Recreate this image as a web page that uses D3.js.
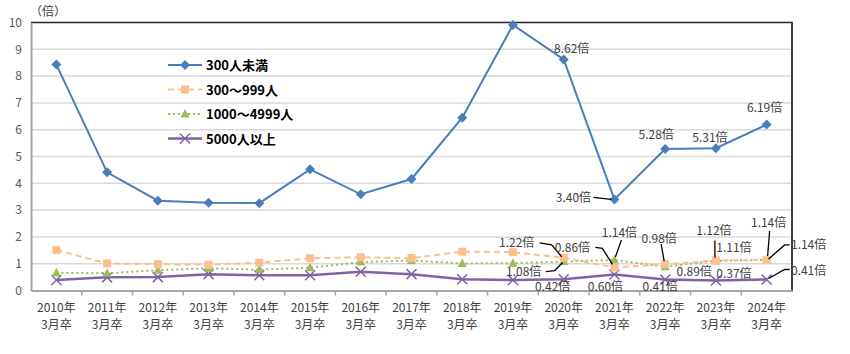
<!DOCTYPE html>
<html>
<head>
<meta charset="utf-8">
<title>大卒求人倍率</title>
<style>
  body { margin: 0; background: #fff; }
  text { font-family: "Noto Sans CJK JP", "Noto Sans", sans-serif; }
</style>
</head>
<body>

<div id="my_dataviz"></div>

<script src="https://d3js.org/d3.v7.min.js"></script>
<script>

    // categories (two line labels)
    var years = ["2010年","2011年","2012年","2013年","2014年","2015年","2016年","2017年","2018年","2019年","2020年","2021年","2022年","2023年","2024年"];
    var subLabel = "3月卒";
    var yTicks = [0,1,2,3,4,5,6,7,8,9,10];

    // series values (倍)
    var under300   = [8.43, 4.41, 3.35, 3.27, 3.26, 4.52, 3.59, 4.16, 6.45, 9.91, 8.62, 3.40, 5.28, 5.31, 6.19];
    var s300to999  = [1.51, 1.01, 0.98, 0.96, 1.04, 1.20, 1.24, 1.21, 1.45, 1.43, 1.22, 0.86, 0.98, 1.12, 1.14];
    var s1000to4999= [0.66, 0.64, 0.76, 0.83, 0.78, 0.85, 1.06, 1.12, 1.01, 1.02, 1.08, 1.14, 0.89, 1.11, 1.14];
    var over5000   = [0.39, 0.49, 0.50, 0.61, 0.57, 0.57, 0.70, 0.61, 0.42, 0.39, 0.42, 0.60, 0.41, 0.37, 0.41];

    var seriesNames = ["300人未満", "300～999人", "1000～4999人", "5000人以上"];

    var series = [
      {name: seriesNames[0], values: under300,    color: "#4a7ebb", dash: null,  marker: "diamond", width: 2},
      {name: seriesNames[1], values: s300to999,   color: "#fac08f", dash: "6,4", marker: "square",  width: 2},
      {name: seriesNames[2], values: s1000to4999, color: "#9bbb59", dash: "2,3", marker: "triangle",width: 2},
      {name: seriesNames[3], values: over5000,    color: "#8064a2", dash: null,  marker: "cross",   width: 2.5}
    ];

    // data labels: series index, category index, label offset from point, optional leader line (offsets)
    var labels = [
      {s:0, i:10, dx:8,   dy:-11},
      {s:0, i:11, dx:-41, dy:-2,  lead:[[-21,-2],[-3,0]]},
      {s:0, i:12, dx:-9,  dy:-14},
      {s:0, i:13, dx:-6,  dy:-11},
      {s:0, i:14, dx:-2,  dy:-17},
      {s:1, i:10, dx:-47, dy:-15, lead:[[-24,-15],[-12,-13],[-2,-1]]},
      {s:2, i:10, dx:-40, dy:10,  lead:[[-18,10],[-9,9],[-1,1]]},
      {s:1, i:11, dx:-42, dy:-20, lead:[[-19,-20],[-12,-19],[-2,-3]]},
      {s:2, i:11, dx:5,   dy:-27, lead:[[7,-20],[1,-3]]},
      {s:1, i:12, dx:-6,  dy:-26, lead:[[-4,-20],[-1,-3]]},
      {s:2, i:12, dx:29,  dy:5},
      {s:1, i:13, dx:-2,  dy:-30, lead:[[-1,-20],[-1,-3]]},
      {s:2, i:13, dx:18,  dy:-13},
      {s:2, i:14, dx:2,   dy:-37, lead:[[3,-29],[1,-4]]},
      {s:1, i:14, dx:42,  dy:-15, lead:[[23,-15],[18,-15],[2,-1]]},
      {s:3, i:14, dx:42,  dy:-9,  lead:[[23,-10],[18,-10],[2,-1]]},
      {s:3, i:10, dx:-11, dy:7},
      {s:3, i:11, dx:-9,  dy:12},
      {s:3, i:12, dx:-5,  dy:7},
      {s:3, i:13, dx:18,  dy:-7}
    ];

    // set the dimensions of the graph
    var width = 850, height = 354;
    var plot = {left: 31, right: 792, top: 22.5, bottom: 290.5};

    var svg = d3.select("#my_dataviz")
      .append("svg")
        .attr("width", width)
        .attr("height", height);

    var x = d3.scaleBand().domain(years).range([plot.left, plot.right]).padding(0);
    var y = d3.scaleLinear().domain([0, 10]).range([plot.bottom, plot.top]);
    function cx(i) { return x(years[i]) + x.bandwidth() / 2; }

    // gridlines
    svg.append("g")
      .selectAll("line")
      .data(yTicks.filter(function(d){ return d > 0 && d < 10; }))
      .enter().append("line")
        .attr("x1", plot.left).attr("x2", plot.right)
        .attr("y1", function(d){ return y(d); })
        .attr("y2", function(d){ return y(d); })
        .attr("stroke", "#d9d9d9")
        .attr("stroke-width", 1.5);

    // frame: top and right dark, left and bottom gray axes
    svg.append("line").attr("x1", plot.left).attr("x2", plot.right)
      .attr("y1", y(10)).attr("y2", y(10)).attr("stroke", "#262626").attr("stroke-width", 1.5);
    svg.append("line").attr("x1", plot.right).attr("x2", plot.right)
      .attr("y1", y(10) - 0.75).attr("y2", plot.bottom + 1).attr("stroke", "#404040").attr("stroke-width", 2);

    // Y axis
    var yAxis = d3.axisLeft(y).tickValues(yTicks).tickSize(0).tickPadding(9);
    var gy = svg.append("g").attr("transform", "translate(" + plot.left + ",0)").call(yAxis);
    gy.select(".domain").attr("stroke", "#a6a6a6").attr("stroke-width", 2);
    gy.selectAll("text").attr("font-size", 12).attr("fill", "#595959")
      .style("font-family", "'Noto Sans CJK JP', sans-serif");

    svg.append("text")
      .attr("x", 30).attr("y", 16)
      .attr("font-size", 12).attr("fill", "#404040")
      .text("（倍）");

    // X axis, ticks between categories
    var xAxis = d3.axisBottom(x).tickSize(0).tickFormat("");
    var gx = svg.append("g").attr("transform", "translate(0," + plot.bottom + ")").call(xAxis);
    gx.select(".domain").attr("stroke", "#a6a6a6").attr("stroke-width", 2);
    gx.selectAll(".sep")
      .data(years.slice(1))
      .enter().append("line")
        .attr("class", "sep")
        .attr("x1", function(d){ return x(d); }).attr("x2", function(d){ return x(d); })
        .attr("y1", 0).attr("y2", 5)
        .attr("stroke", "#a6a6a6").attr("stroke-width", 1.5);

    var xl = svg.append("g").selectAll("g.xl")
      .data(years)
      .enter().append("g")
        .attr("class", "xl")
        .attr("transform", function(d){ return "translate(" + (x(d) + x.bandwidth()/2) + ",0)"; });
    xl.append("text").attr("y", 312).attr("text-anchor", "middle")
      .attr("font-size", 12).attr("fill", "#404040").text(function(d){ return d; });
    xl.append("text").attr("y", 329).attr("text-anchor", "middle")
      .attr("font-size", 12).attr("fill", "#404040").text(subLabel);

    // marker drawing
    function drawMarker(g, type, color) {
      if (type == "diamond") {
        g.append("path").attr("d", "M0,-5L5,0L0,5L-5,0Z").attr("fill", color);
      } else if (type == "square") {
        g.append("rect").attr("x", -4).attr("y", -4).attr("width", 8).attr("height", 8).attr("fill", color);
      } else if (type == "triangle") {
        g.append("path").attr("d", "M0,-5L4.5,3.5L-4.5,3.5Z").attr("fill", color);
      } else {
        g.append("path").attr("d", "M-5,-5L5,5M-5,5L5,-5").attr("stroke", color).attr("stroke-width", 1.5);
      }
    }

    // lines, drawn bottom series first
    var line = d3.line()
      .x(function(d, i){ return cx(i); })
      .y(function(d){ return y(d); });

    series.slice().reverse().forEach(function(s) {
      svg.append("path")
        .datum(s.values)
        .attr("d", line)
        .attr("fill", "none")
        .attr("stroke", s.color)
        .attr("stroke-width", s.width)
        .attr("stroke-dasharray", s.dash);
      s.values.forEach(function(v, i) {
        var g = svg.append("g").attr("transform", "translate(" + cx(i) + "," + y(v) + ")");
        drawMarker(g, s.marker, s.color);
      });
    });

    // legend
    var legend = svg.append("g");
    series.forEach(function(s, k) {
      var ly = 65 + k * 24.5;
      legend.append("line")
        .attr("x1", 168).attr("x2", 202).attr("y1", ly).attr("y2", ly)
        .attr("stroke", s.color).attr("stroke-width", s.width)
        .attr("stroke-dasharray", s.dash);
      var g = legend.append("g").attr("transform", "translate(185," + ly + ")");
      drawMarker(g, s.marker, s.color);
      legend.append("text")
        .attr("x", 206).attr("y", ly + 5)
        .attr("font-size", 13).attr("font-weight", "bold").attr("fill", "#000")
        .text(s.name);
    });

    // data labels with leader lines
    labels.forEach(function(l) {
      var v = series[l.s].values[l.i];
      var px = cx(l.i), py = y(v);
      if (l.lead) {
        svg.append("path")
          .attr("d", d3.line()(l.lead.map(function(p){ return [px + p[0], py + p[1]]; })))
          .attr("fill", "none").attr("stroke", "#000").attr("stroke-width", 1.3);
      }
      svg.append("text")
        .attr("x", px + l.dx).attr("y", py + l.dy + 4.5)
        .attr("text-anchor", "middle")
        .attr("font-size", 12).attr("fill", "#404040")
        .text(v.toFixed(2) + "倍");
    });

</script>
</body>
</html>
